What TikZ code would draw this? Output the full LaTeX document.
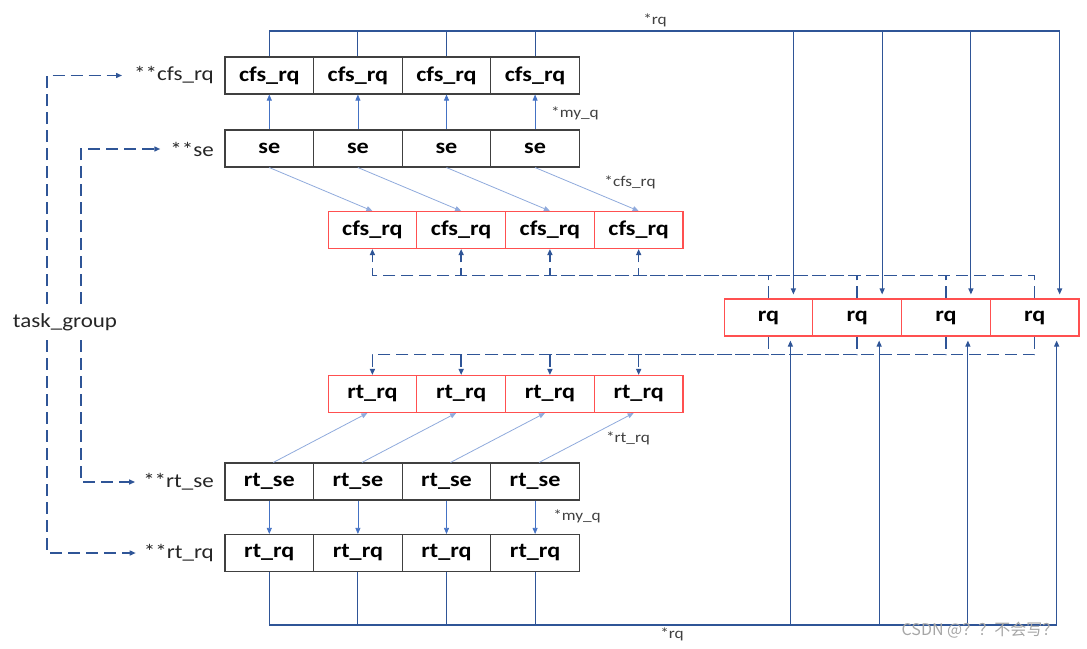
\documentclass[tikz,border=0pt]{standalone}
\usepackage{fontspec}
\setmainfont{Carlito}[FakeStretch=1.15]
\newfontfamily\cjkfont{Noto Sans CJK SC}
\usetikzlibrary{arrows.meta, calc}

\definecolor{linkblue}{HTML}{2F5597}
\definecolor{ptrblue}{HTML}{4472C4}
\definecolor{lightptr}{HTML}{8FAADC}
\definecolor{boxred}{HTML}{FF5050}
\definecolor{boxgray}{HTML}{404040}

\begin{document}
\begin{tikzpicture}[x=1pt, y=-1pt,
  cell/.style={draw=boxgray, line width=1.1pt, minimum width=88.6pt, minimum height=37pt, inner sep=0pt, font=\fontsize{21}{21}\selectfont\bfseries},
  redcell/.style={cell, draw=boxred},
  side/.style={anchor=east, inner sep=2pt, font=\fontsize{20}{20}\selectfont, text=black!85},
  tag/.style={font=\fontsize{15}{15}\selectfont, text=black!75},
  myq/.style={ptrblue, line width=0.7pt, -{Triangle[length=6pt,width=5pt]}},
  entity/.style={lightptr, line width=0.8pt, -{Triangle[length=6pt,width=5pt]}},
  rqlink/.style={linkblue, line width=1.1pt, shorten >=4pt, -{Triangle[length=6pt,width=5pt]}},
  tglink/.style={linkblue, line width=1.4pt, dash pattern=on 12pt off 6pt, -{Triangle[length=6pt,width=5pt]}}]
  \useasboundingbox (0,0) rectangle (1087,648);

  % Rows of per-cpu pointers
  \foreach \i in {0,...,3} {
    \node[cell] (cfs\i) at (269.3+88.6*\i, 75.5) {cfs\_rq};
    \node[cell] (se\i) at (269.3+88.6*\i, 148.5) {se};
    \node[redcell] (pcfs\i) at (372.4+88.75*\i, 230) {cfs\_rq};
    \node[redcell] (rq\i) at (768.4+88.75*\i, 317.5) {rq};
    \node[redcell] (prt\i) at (372.4+88.75*\i, 394) {rt\_rq};
    \node[cell] (rtse\i) at (269.3+88.6*\i, 481.5) {rt\_se};
    \node[cell] (rtrq\i) at (269.3+88.6*\i, 553) {rt\_rq};
  }

  % se -> my_q, se -> cfs_rq
  \foreach \i in {0,...,3} {
    \draw[myq] (se\i.north) -- (cfs\i.south);
    \draw[entity] (se\i.south) -- (pcfs\i.north);
    \draw[entity] ($(rtse\i.north)+(4,0)$) -- ($(prt\i.south)+(-5,0)$);
    \draw[myq] (rtse\i.south) -- (rtrq\i.north);
  }

  % rq pointers (solid)
  \coordinate (toprail) at (0,31);
  \coordinate (botrail) at (0,625);
  \foreach \i in {0,...,3} {
    \draw[rqlink] (cfs\i.north) -- (cfs\i.north |- toprail) -| ($(rq\i.north)+(25,0)$);
    \draw[rqlink] (rtrq\i.south) -- (rtrq\i.south |- botrail) -| ($(rq\i.south)+(22,0)$);
  }

  % rq -> cfs_rq / rt_rq (dashed)
  \foreach \i in {0,...,3} {
    \draw[tglink] (rq\i.north) -- ++(0,-23) -| (pcfs\i.south);
    \draw[tglink] (rq\i.south) -- ++(0,18) -| (prt\i.north);
  }

  % Labels
  \node[side] (lcfs) at (216,75.5) {**cfs\_rq};
  \node[side] (lse) at (216,149) {**se};
  \node[side] (lrtse) at (216,482) {**rt\_se};
  \node[side] (lrtrq) at (216,553) {**rt\_rq};
  \node[tag] (tmyq) at (575,113) {*my\_q};
  \node[tag] (tcfs) at (630,182) {*cfs\_rq};
  \node[tag] (ttop) at (655,20) {*rq};
  \node[tag] (trt) at (628,438) {*rt\_rq};
  \node[tag] (tmyq2) at (577,516) {*my\_q};
  \node[tag] (tbot) at (672,634) {*rq};

  % task_group
  \coordinate (outer) at (47,322);
  \coordinate (inner) at (81,322);
  \draw[tglink, shorten >=10pt] (outer) |- (lcfs.west);
  \draw[tglink, shorten >=8pt] (inner) |- (lse.west);
  \draw[tglink, shorten >=6pt] (inner) |- (lrtse.west);
  \draw[tglink, shorten >=6pt] (outer) |- (lrtrq.west);
  \node[fill=white, inner sep=3pt, font=\fontsize{20}{20}\selectfont, text=black!85] (tg) at (65,322) {task\_group};

  \node[text=black!35, font=\cjkfont\fontsize{16}{16}\selectfont] (mark) at (980,630) {CSDN @？？不会写？};
\end{tikzpicture}
\end{document}
